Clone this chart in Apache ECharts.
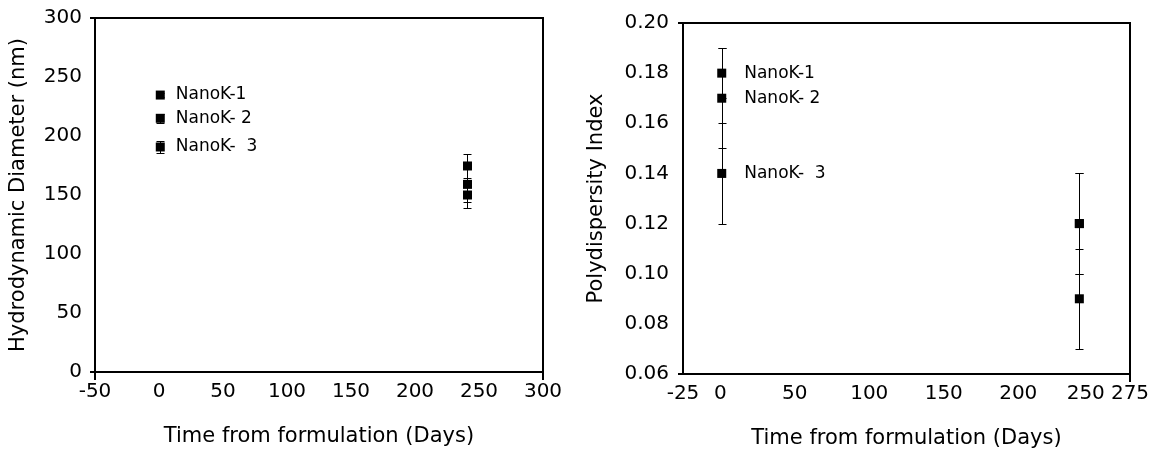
<!DOCTYPE html>
<html>
<head>
<meta charset="utf-8">
<script src="https://cdn.jsdelivr.net/npm/echarts@6/dist/echarts.min.js"></script>
<style>
html,body{margin:0;padding:0;background:#fff;}
#chart{width:1159px;height:454px;}
</style>
</head>
<body>
<div id="chart"></div>
<script>
// ---- data ----
const seriesNames = ['NanoK-1', 'NanoK- 2', 'NanoK-  3'];
const days = [1, 241];

// Hydrodynamic diameter (nm), mean and error
const diamK1 = [234.7, 174.6];
const diamK2 = [215, 159];
const diamK3 = [190.7, 150];
const diamErrK1 = [2, 10];
const diamErrK2 = [4, 15];
const diamErrK3 = [4.8, 11];

// Polydispersity index, mean and error
const pdiK1 = [0.18, 0.12];
const pdiK2 = [0.17, 0.12];
const pdiK3 = [0.14, 0.09];
const pdiErrK1 = [0.01, 0.02];
const pdiErrK2 = [0.02, 0.02];
const pdiErrK3 = [0.02, 0.02];

// axis ticks
const leftXTicks = [-50, 0, 50, 100, 150, 200, 250, 300];
const leftYTicks = [0, 50, 100, 150, 200, 250, 300];
const rightXTicks = [-25, 0, 50, 100, 150, 200, 250, 275];
const rightYTicks = [0.06, 0.08, 0.10, 0.12, 0.14, 0.16, 0.18, 0.20];

const FONT = 'DejaVu Sans';
const chart = echarts.init(document.getElementById('chart'));

function errRender(params, api) {
  const x = api.value(0), y = api.value(1), e = api.value(2);
  const hi = api.coord([x, y + e]);
  const lo = api.coord([x, y - e]);
  const cx = Math.round(hi[0]) + 0.5;
  const yh = Math.round(hi[1]) + 0.5, yl = Math.round(lo[1]) + 0.5;
  const hw = 4;
  const style = { stroke: '#000', lineWidth: 1, fill: null };
  return {
    type: 'group',
    children: [
      { type: 'line', shape: { x1: cx, y1: yh, x2: cx, y2: yl }, style },
      { type: 'line', shape: { x1: cx - hw, y1: yh, x2: cx + hw, y2: yh }, style },
      { type: 'line', shape: { x1: cx - hw, y1: yl, x2: cx + hw, y2: yl }, style }
    ]
  };
}

function mainAxis(grid, pos, min, max, interval, ticks, fmt, margin, skipMax) {
  const beforeMax = ticks[ticks.length - 2];
  return {
    type: 'value', gridIndex: grid, position: pos, min, max, interval,
    axisLine: { show: true, onZero: false, lineStyle: { color: '#000', width: 2 } },
    axisTick: { show: false },
    splitLine: { show: false },
    axisLabel: {
      color: '#000', fontFamily: FONT, fontSize: 20, margin,
      showMinLabel: true, showMaxLabel: !skipMax, hideOverlap: false,
      rich: { sh: { color: '#000', fontFamily: FONT, fontSize: 20, padding: [0, 14, 0, 0] } },
      formatter: v => {
        if (skipMax && Math.abs(v - max) < 1e-9) return '';
        const hit = ticks.find(t => Math.abs(t - v) < 1e-9);
        if (hit === undefined) return '';
        if (skipMax && hit === beforeMax) return '{sh|' + fmt(hit) + '}';
        return fmt(hit);
      }
    }
  };
}
function endTickAxis(grid, pos, len, maxLabel, margin) {
  return {
    type: 'value', gridIndex: grid, position: pos, min: 0, max: 1, interval: 1,
    axisLine: { show: false, onZero: false },
    axisLabel: maxLabel === undefined ? { show: false } : {
      show: true, color: '#000', fontFamily: FONT, fontSize: 20, margin,
      showMinLabel: false, showMaxLabel: true,
      formatter: v => (v === 1 ? String(maxLabel) : '')
    },
    splitLine: { show: false },
    axisTick: { show: true, length: len, lineStyle: { color: '#000', width: 2 } }
  };
}

const titleStyle = { color: '#000', fontFamily: FONT, fontSize: 21 };

const xLeft = mainAxis(0, 'bottom', -50, 300, 50, leftXTicks, v => String(v), 10, false);
Object.assign(xLeft, { name: 'Time from formulation (Days)', nameLocation: 'middle', nameGap: 54, nameTextStyle: titleStyle });

const yLeft = mainAxis(0, 'left', 0, 300, 50, leftYTicks, v => String(v), 13, false);
Object.assign(yLeft, { name: 'Hydrodynamic Diameter (nm)', nameLocation: 'middle', nameGap: 66, nameTextStyle: titleStyle });

const xRight = mainAxis(1, 'bottom', -25, 275, 25, rightXTicks, v => String(v), 10, true);
Object.assign(xRight, { name: 'Time from formulation (Days)', nameLocation: 'middle', nameGap: 54, nameTextStyle: titleStyle });

const yRight = mainAxis(1, 'left', 0.06, 0.20, 0.02, rightYTicks, v => v.toFixed(2), 14, false);
Object.assign(yRight, { name: 'Polydispersity Index', nameLocation: 'middle', nameGap: 76, nameTextStyle: titleStyle });

function scatterSeries(name, xi, yi, vals, labelDist) {
  return {
    type: 'scatter', name, xAxisIndex: xi, yAxisIndex: yi,
    symbol: 'rect', symbolSize: 9, z: 3,
    itemStyle: { color: '#000', opacity: 1 },
    emphasis: { disabled: true },
    data: days.map((d, i) => ({
      value: [d, vals[i]],
      label: {
        show: i === 0, position: 'right', distance: labelDist,
        formatter: name, color: '#000', fontFamily: FONT, fontSize: 17
      }
    }))
  };
}
function errSeries(xi, yi, vals, errs) {
  return {
    type: 'custom', xAxisIndex: xi, yAxisIndex: yi, z: 2,
    renderItem: errRender,
    data: days.map((d, i) => [d, vals[i], errs[i]])
  };
}

const leftVals = [diamK1, diamK2, diamK3];
const leftErrs = [diamErrK1, diamErrK2, diamErrK3];
const rightVals = [pdiK1, pdiK2, pdiK3];
const rightErrs = [pdiErrK1, pdiErrK2, pdiErrK3];

const series = [];
seriesNames.forEach((n, k) => {
  series.push(errSeries(0, 0, leftVals[k], leftErrs[k]));
  series.push(scatterSeries(n, 0, 0, leftVals[k], 11));
  series.push(errSeries(2, 2, rightVals[k], rightErrs[k]));
  series.push(scatterSeries(n, 2, 2, rightVals[k], 18));
});

chart.setOption({
  animation: false,
  backgroundColor: '#fff',
  grid: [
    { left: 95, top: 18, width: 448, height: 354, show: true, borderColor: '#000', borderWidth: 2, backgroundColor: 'transparent' },
    { left: 683, top: 23, width: 447, height: 352, show: true, borderColor: '#000', borderWidth: 2, backgroundColor: 'transparent' }
  ],
  xAxis: [
    xLeft, endTickAxis(0, 'bottom', 8),
    xRight, endTickAxis(1, 'bottom', 8, rightXTicks[rightXTicks.length - 1], 10)
  ],
  yAxis: [yLeft, endTickAxis(0, 'left', 5), yRight, endTickAxis(1, 'left', 5)],
  series
});
</script>
</body>
</html>
